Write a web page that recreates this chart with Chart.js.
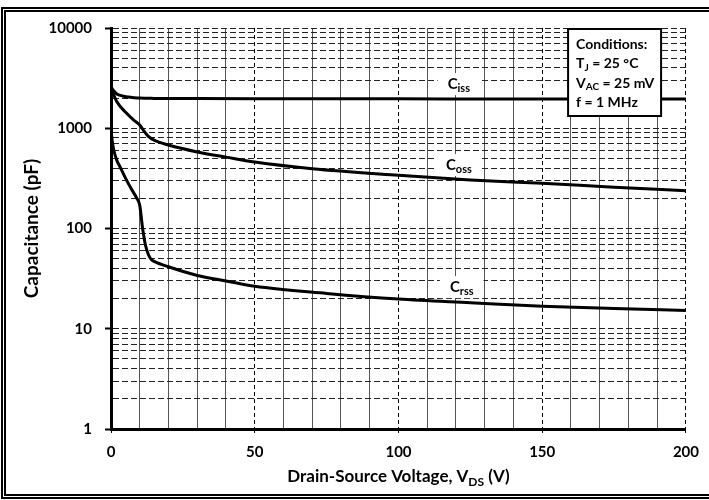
<!DOCTYPE html>
<html>
<head>
<meta charset="utf-8">
<script src="https://cdn.jsdelivr.net/npm/chart.js@4.4.1/dist/chart.umd.min.js"></script>
<style>
  body { margin: 0; background: #fff; }
  #wrap { position: relative; width: 709px; height: 500px; overflow: hidden; }
  #frame { position: absolute; left: 1px; top: 7px; width: 730px; height: 492px;
           border: 5px double #000; box-sizing: border-box; pointer-events: none; }
</style>
</head>
<body>
<div id="wrap">
  <canvas id="capChart" width="709" height="500"></canvas>
  <div id="frame"></div>
</div>
<script>
// Datos (V en voltios, C en pF)
const vCiss = [0, 1, 2, 4, 6, 8, 10, 15, 20, 30, 50, 100, 150, 200];
const ciss  = [2600, 2350, 2200, 2100, 2050, 2020, 2000, 1985, 1980, 1975, 1970, 1965, 1960, 1960];

const vCoss = [0, 2, 5, 8, 10, 11, 13, 15, 20, 30, 40, 50, 70, 100, 125, 150, 175, 200];
const coss  = [2500, 1850, 1450, 1200, 1080, 980, 830, 760, 680, 580, 515, 460, 395, 340, 305, 282, 258, 238];

const vCrss = [0, 0.5, 1, 2, 3, 5, 7, 9, 10, 11, 12, 13, 14, 15, 20, 30, 40, 50, 75, 100, 125, 150, 175, 200];
const crss  = [980, 720, 600, 480, 420, 320, 250, 200, 170, 100, 68, 55, 49, 47, 41.5, 34, 30, 26.5, 22.5, 19.8, 18.2, 16.8, 15.9, 15.2];

const xTicks = [0, 50, 100, 150, 200];
const yMajor = [1, 10, 100, 1000, 10000];
const yGrid = [1, 2, 3, 4, 5, 6, 7, 8, 9,
               10, 20, 30, 40, 50, 60, 70, 80, 90,
               100, 200, 300, 400, 500, 600, 700, 800, 900,
               1000, 2000, 3000, 4000, 5000, 6000, 7000, 8000, 9000, 10000];

const curveLabels = [
  { main: "C", sub: "iss", x: 121, y: 2760 },
  { main: "C", sub: "oss", x: 121, y: 430 },
  { main: "C", sub: "rss", x: 122, y: 26 }
];
const conditions = [
  [["Conditions:", false]],
  [["T", false], ["J", true], [" = 25 °C", false]],
  [["V", false], ["AC", true], [" = 25 mV", false]],
  [["f = 1 MHz", false]]
];

const FONT = "Lato, 'Open Sans', sans-serif";
const pts = (xs, ys) => xs.map((x, i) => ({ x: x, y: ys[i] }));

function drawRich(ctx, parts, x, y, size) {
  size = size || 14;
  let cx = x;
  parts.forEach(([t, isSub]) => {
    ctx.font = "bold " + (isSub ? Math.round(size * 0.72) : size) + "px " + FONT;
    ctx.fillText(t, cx, isSub ? y + size * 0.28 : y);
    cx += ctx.measureText(t).width;
  });
  return cx - x;
}
function richWidth(ctx, parts, size) {
  size = size || 14;
  let w = 0;
  parts.forEach(([t, isSub]) => {
    ctx.font = "bold " + (isSub ? Math.round(size * 0.72) : size) + "px " + FONT;
    w += ctx.measureText(t).width;
  });
  return w;
}

const anotaciones = {
  id: "anotaciones",
  afterDraw(chart) {
    const { ctx, scales: { x, y }, chartArea } = chart;
    ctx.save();
    ctx.textBaseline = "middle";
    ctx.fillStyle = "#000";

    // Etiquetas de curvas
    curveLabels.forEach(l => {
      const parts = [[l.main, false], [l.sub, true]];
      const w = richWidth(ctx, parts, 15);
      const px = x.getPixelForValue(l.x), py = y.getPixelForValue(l.y);
      ctx.fillStyle = "#fff";
      ctx.fillRect(px - w / 2 - 10, py - 11, w + 20, 22);
      ctx.fillStyle = "#000";
      drawRich(ctx, parts, px - w / 2, py, 15);
    });

    // Cuadro de condiciones
    const bx = x.getPixelForValue(159), by = chartArea.top + 1;
    const bw = 93, bh = 87;
    ctx.fillStyle = "#fff";
    ctx.fillRect(bx, by, bw, bh);
    ctx.strokeStyle = "#000";
    ctx.lineWidth = 2;
    ctx.strokeRect(bx, by, bw, bh);
    ctx.fillStyle = "#000";
    conditions.forEach((line, i) => drawRich(ctx, line, bx + 8, by + 15 + i * 19.5));

    // Título del eje X con subíndice
    const title = [["Drain-Source Voltage, V", false], ["DS", true], [" (V)", false]];
    const tw = richWidth(ctx, title, 17);
    drawRich(ctx, title, (chartArea.left + chartArea.right) / 2 - tw / 2, 477, 17);
    ctx.restore();
  }
};

new Chart(document.getElementById("capChart"), {
  type: "line",
  data: {
    datasets: [
      { label: "Ciss", data: pts(vCiss, ciss) },
      { label: "Coss", data: pts(vCoss, coss) },
      { label: "Crss", data: pts(vCrss, crss) }
    ]
  },
  options: {
    responsive: false,
    animation: false,
    layout: { padding: { left: 10, top: 28, right: 23, bottom: 10 } },
    elements: {
      line: { borderColor: "#000", borderWidth: 3, cubicInterpolationMode: "monotone", fill: false },
      point: { radius: 0 }
    },
    plugins: { legend: { display: false }, tooltip: { enabled: false } },
    scales: {
      x: {
        type: "linear", position: "bottom", min: 0, max: 200,
        afterBuildTicks: s => { s.ticks = xTicks.map(v => ({ value: v })); },
        afterFit: s => { s.height = 61; },
        ticks: { color: "#000", font: { family: FONT, weight: "bold", size: 15 }, padding: 10, maxRotation: 0 },
        grid: { color: "#000", lineWidth: 1, tickLength: 4, tickColor: "#000" },
        border: { color: "#000", width: 3, dash: [4, 3] }
      },
      x2: {
        type: "linear", position: "top", min: 0, max: 200,
        ticks: { display: false, stepSize: 10 },
        grid: {
          drawTicks: false,
          color: c => (c.tick && c.tick.value % 50 === 0) ? "rgba(0,0,0,0)" : "#555",
          lineWidth: 1
        },
        border: { display: false, dash: [] }
      },
      y: {
        type: "logarithmic", min: 1, max: 10000,
        afterBuildTicks: s => { s.ticks = yGrid.map(v => ({ value: v })); },
        afterFit: s => { s.width = 101; },
        ticks: {
          autoSkip: false, color: "#000", padding: 13,
          font: { family: FONT, weight: "bold", size: 15 },
          callback: v => yMajor.includes(v) ? String(v) : ""
        },
        grid: {
          color: "#222", lineWidth: 1, tickLength: 6,
          tickColor: c => (c.tick && yMajor.includes(c.tick.value)) ? "#000" : "rgba(0,0,0,0)",
          tickWidth: 2
        },
        border: { color: "#000", width: 3, dash: [6, 3] },
        title: {
          display: true, text: "Capacitance (pF)", color: "#000",
          font: { family: FONT, weight: "bold", size: 19 }, padding: { top: 10, bottom: 0 }
        }
      }
    }
  },
  plugins: [anotaciones]
});
</script>
</body>
</html>
